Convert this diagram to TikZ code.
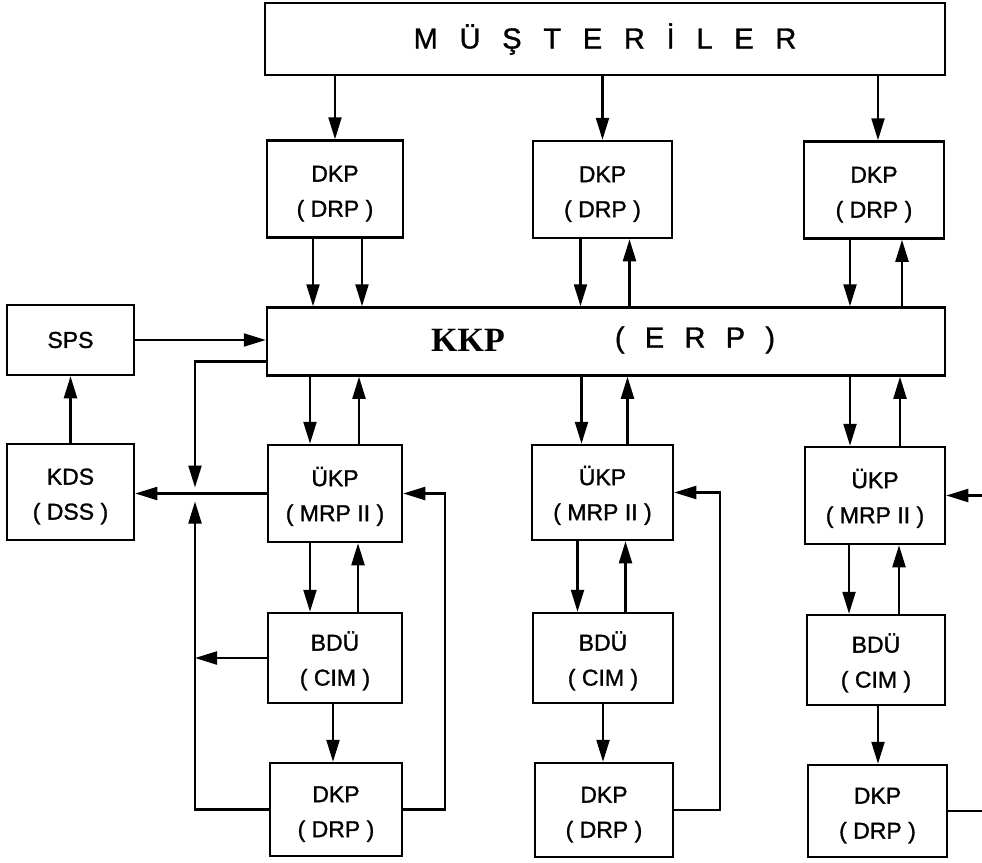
\documentclass[tikz,border=0pt]{standalone}
\usepackage{fontspec}
\setmainfont{Liberation Sans}[FakeBold=1.2]
\newfontfamily\kkpfont{Liberation Serif}
\usetikzlibrary{arrows.meta,calc}
\newcommand\lsp{\hspace{0.75em}}
\newcommand\esp{\hspace{0.7em}}
\newcommand\tstrut{\rule{0pt}{25pt}}
\begin{document}
\begin{tikzpicture}[x=1pt,y=-1pt,
  box/.style={draw, line width=2.5pt, inner sep=0pt, align=center,
    font=\fontsize{23}{35}\selectfont},
  arr/.style={-{Triangle[length=22pt,width=13pt]}, line width=2.2pt},
  ln/.style={line width=2.2pt}]
\useasboundingbox (0,0) rectangle (982,862);
\coordinate (bus) at (195,0);
\coordinate (redge) at (982,0);
% boxes
\node[box, minimum width=680pt, minimum height=72pt, font=\fontsize{29}{30}\selectfont] (must) at (605,39)
  {M\lsp Ü\lsp Ş\lsp T\lsp E\lsp R\lsp İ\lsp L\lsp E\lsp R};
\node[box, minimum width=136pt, minimum height=97pt] (dkp1) at (335,189) {\tstrut DKP\\( DRP )};
\node[box, minimum width=139pt, minimum height=97pt] (dkp2) at (602.5,189.5) {\tstrut DKP\\( DRP )};
\node[box, minimum width=140pt, minimum height=97pt] (dkp3) at (874,190) {\tstrut DKP\\( DRP )};
\node[box, minimum width=678pt, minimum height=68pt] (kkp) at (606,341.5) {};
\node[font=\fontsize{34}{36}\kkpfont\bfseries] (kkpt) at (468,340) {KKP};
\node[font=\fontsize{29}{32}\selectfont] (erpt) at (695,340) {(\esp E\esp R\esp P\esp )};
\node[box, minimum width=127pt, minimum height=70pt] (sps) at (70.5,340) {SPS};
\node[box, minimum width=127pt, minimum height=96pt] (kds) at (70.5,492) {\tstrut KDS\\( DSS )};
% lower columns
\node[box, minimum width=134pt, minimum height=97pt] (ukp1) at (335,493.5) {\tstrut ÜKP\\( MRP II )};
\node[box, minimum width=141pt, minimum height=95pt] (ukp2) at (602.5,492.5) {\tstrut ÜKP\\( MRP II )};
\node[box, minimum width=140pt, minimum height=97pt] (ukp3) at (875,495.5) {\tstrut ÜKP\\( MRP II )};
\node[box, minimum width=134pt, minimum height=90pt] (bdu1) at (335,658) {\tstrut BDÜ\\( CIM )};
\node[box, minimum width=140pt, minimum height=90pt] (bdu2) at (603,658) {\tstrut BDÜ\\( CIM )};
\node[box, minimum width=138pt, minimum height=90pt] (bdu3) at (876,660) {\tstrut BDÜ\\( CIM )};
\node[box, minimum width=132pt, minimum height=93pt] (dkpb1) at (336,809.5) {\tstrut DKP\\( DRP )};
\node[box, minimum width=138pt, minimum height=94pt] (dkpb2) at (604,810) {\tstrut DKP\\( DRP )};
\node[box, minimum width=139pt, minimum height=92pt] (dkpb3) at (877.5,811) {\tstrut DKP\\( DRP )};
% customers -> DKP
\draw[arr] (dkp1.north |- must.south) -- (dkp1.north);
\draw[arr] (dkp2.north |- must.south) -- (dkp2.north);
\draw[arr] ([xshift=4pt]dkp3.north |- must.south) -- ([xshift=4pt]dkp3.north);
% DKP <-> KKP
\draw[arr] ([xshift=-22pt]dkp1.south) -- ([xshift=-22pt]dkp1.south |- kkp.north);
\draw[arr] ([xshift=27pt]dkp1.south) -- ([xshift=27pt]dkp1.south |- kkp.north);
\draw[arr] ([xshift=-22pt]dkp2.south) -- ([xshift=-22pt]dkp2.south |- kkp.north);
\draw[arr] ([xshift=27pt]dkp2.south |- kkp.north) -- ([xshift=27pt]dkp2.south);
\draw[arr] ([xshift=-24pt]dkp3.south) -- ([xshift=-24pt]dkp3.south |- kkp.north);
\draw[arr] ([xshift=28pt]dkp3.south |- kkp.north) -- ([xshift=28pt]dkp3.south);
% KKP <-> ÜKP
\draw[arr] ([xshift=-25pt]ukp1.north |- kkp.south) -- ([xshift=-25pt]ukp1.north);
\draw[arr] ([xshift=24pt]ukp1.north) -- ([xshift=24pt]ukp1.north |- kkp.south);
\draw[arr] ([xshift=-21pt]ukp2.north |- kkp.south) -- ([xshift=-21pt]ukp2.north);
\draw[arr] ([xshift=25pt]ukp2.north) -- ([xshift=25pt]ukp2.north |- kkp.south);
\draw[arr] ([xshift=-25pt]ukp3.north |- kkp.south) -- ([xshift=-25pt]ukp3.north);
\draw[arr] ([xshift=25pt]ukp3.north) -- ([xshift=25pt]ukp3.north |- kkp.south);
% ÜKP <-> BDÜ
\draw[arr] ([xshift=-25pt]ukp1.south) -- ([xshift=-25pt]ukp1.south |- bdu1.north);
\draw[arr] ([xshift=23pt]ukp1.south |- bdu1.north) -- ([xshift=23pt]ukp1.south);
\draw[arr] ([xshift=-25pt]ukp2.south) -- ([xshift=-25pt]ukp2.south |- bdu2.north);
\draw[arr] ([xshift=23pt]ukp2.south |- bdu2.north) -- ([xshift=23pt]ukp2.south);
\draw[arr] ([xshift=-26pt]ukp3.south) -- ([xshift=-26pt]ukp3.south |- bdu3.north);
\draw[arr] ([xshift=24pt]ukp3.south |- bdu3.north) -- ([xshift=24pt]ukp3.south);
% BDÜ -> DKP
\draw[arr] ([xshift=-2pt]bdu1.south) -- ([xshift=-2pt]bdu1.south |- dkpb1.north);
\draw[arr] (bdu2.south) -- (bdu2.south |- dkpb2.north);
\draw[arr] ([xshift=2pt]bdu3.south) -- ([xshift=2pt]bdu3.south |- dkpb3.north);
% feedback loops
\draw[arr] (dkpb1.east) -- ++(42,0) |- (ukp1.east);
\draw[arr] (dkpb2.east) -- ++(46,0) |- (ukp2.east);
\draw[arr] (ukp3.east -| redge) -- (ukp3.east);
\draw[ln] (dkpb3.east) -- (dkpb3.east -| redge);
% left side
\draw[arr] (sps.east) -- (kkp.west |- sps.east);
\draw[arr] (kds.north) -- (sps.south);
\draw[arr] ([yshift=-20pt]kkp.west) -| ($(bus |- ukp1.west)+(0,-6)$);
\draw[arr] (ukp1.west) -- (kds.east |- ukp1.west);
\draw[arr] (dkpb1.west) -| ($(bus |- ukp1.west)+(0,8)$);
\draw[arr] (bdu1.west) -- (bus |- bdu1.west);
\end{tikzpicture}
\end{document}
